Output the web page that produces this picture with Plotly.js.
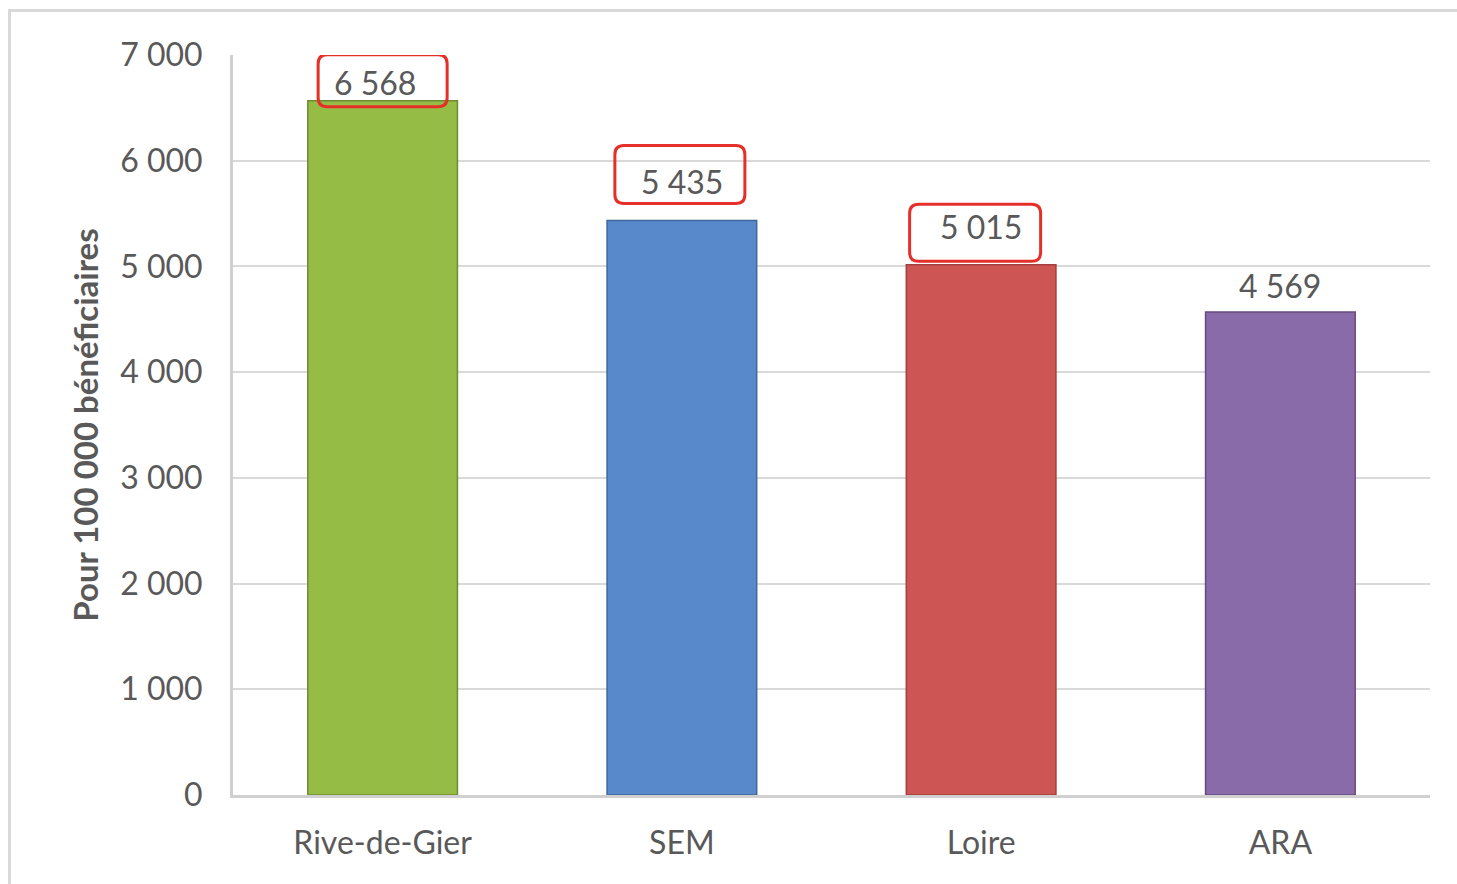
<!DOCTYPE html>
<html>
<head>
<meta charset="utf-8">
<script src="https://cdn.plot.ly/plotly-3.0.1.min.js"></script>
<style>
  html, body { margin: 0; padding: 0; background: #fff; overflow: hidden; }
  #chart { width: 1457px; height: 884px; }
  #frame { position: absolute; left: 8px; top: 9px; width: 1600px; height: 1000px;
           border: 3px solid #d9d9d9; pointer-events: none; box-sizing: border-box; }
</style>
</head>
<body>
<div id="chart"></div>
<div id="frame"></div>
<script>
// ---- data ----
const categories = ["Rive-de-Gier", "SEM", "Loire", "ARA"];
const values = [6568, 5435, 5015, 4569];
const valueLabels = ["6 568", "5 435", "5 015", "4 569"];
const highlighted = [true, true, true, false];
const tickVals = [0, 1000, 2000, 3000, 4000, 5000, 6000, 7000];
const tickText = ["0", "1 000", "2 000", "3 000", "4 000", "5 000", "6 000", "7 000"];
const yTitle = "Pour 100 000 bénéficiaires";

// ---- styles ----
const barColors = ["#95bd46", "#5889cb", "#cd5553", "#8a6baa"];
const barLines = ["#6f8a33", "#40679c", "#a33f3d", "#654c80"];
const labelShiftY = [18, 39, 38, 26];
const labelShiftX = [-8, 0, 0, 0];
const boxOffset = [[0, 20, 129, 52], [-2, 46, 130, 58], [-6, 32, 131, 57]];
const textColor = "#595959";
const fontFam = "Lato, 'Open Sans', sans-serif";

function roundRect(cx, cy, w, h, r) {
  const x0 = cx - w / 2, x1 = cx + w / 2, y0 = cy - h / 2, y1 = cy + h / 2;
  return `M${x0 + r},${y0} L${x1 - r},${y0} Q${x1},${y0} ${x1},${y0 + r} ` +
         `L${x1},${y1 - r} Q${x1},${y1} ${x1 - r},${y1} L${x0 + r},${y1} ` +
         `Q${x0},${y1} ${x0},${y1 - r} L${x0},${y0 + r} Q${x0},${y0} ${x0 + r},${y0} Z`;
}

const trace = {
  type: "bar",
  x: categories,
  y: values,
  marker: { color: barColors, line: { color: barLines, width: 1.5 } },
  hoverinfo: "skip"
};

const annotations = categories.map((c, i) => ({
  x: c, y: values[i], xref: "x", yref: "y",
  text: valueLabels[i], showarrow: false,
  yanchor: "middle", xanchor: "center",
  xshift: labelShiftX[i], yshift: labelShiftY[i],
  font: { family: fontFam, size: 32, color: textColor }
}));

const shapes = [];
categories.forEach((c, i) => {
  if (!highlighted[i]) return;
  const b = boxOffset[i];
  shapes.push({
    type: "path", xref: "x", yref: "y",
    xsizemode: "pixel", ysizemode: "pixel",
    xanchor: c, yanchor: values[i],
    path: roundRect(b[0], b[1], b[2], b[3], 9),
    line: { color: "#e5302a", width: 3 },
    fillcolor: "rgba(0,0,0,0)"
  });
});

const layout = {
  width: 1457, height: 884,
  margin: { l: 233, r: 27, t: 55, b: 89 },
  paper_bgcolor: "#fff", plot_bgcolor: "#fff",
  showlegend: false,
  bargap: 0.5,
  font: { family: fontFam, color: textColor },
  xaxis: {
    type: "category",
    showgrid: false,
    showline: true, linecolor: "#d0d0d0", linewidth: 3,
    ticks: "", ticklabelstandoff: 18,
    tickfont: { family: fontFam, size: 32, color: textColor }
  },
  yaxis: {
    range: [0, 7000],
    tickvals: tickVals, ticktext: tickText,
    showgrid: true, gridcolor: "#d9d9d9", gridwidth: 2,
    showline: true, linecolor: "#d0d0d0", linewidth: 3,
    zeroline: false,
    ticks: "", ticklabelstandoff: 21,
    tickfont: { family: fontFam, size: 32, color: textColor },
    title: { text: yTitle, standoff: 12,
             font: { family: fontFam, size: 33, color: textColor, weight: "bold" } }
  },
  annotations: annotations,
  shapes: shapes
};

Plotly.newPlot("chart", [trace], layout, { staticPlot: true, displayModeBar: false });
</script>
</body>
</html>
